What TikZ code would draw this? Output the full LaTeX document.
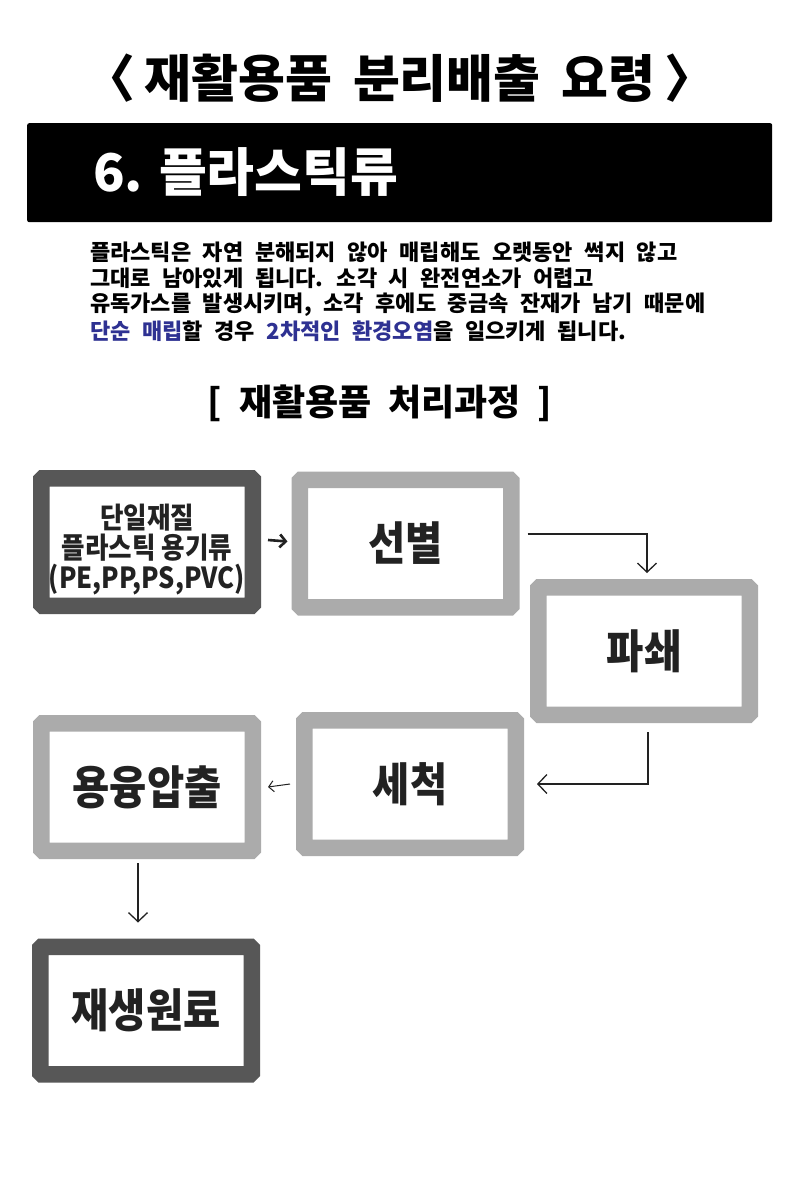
\documentclass[tikz,border=0pt]{standalone}
\usepackage{fontspec}
\setmainfont{Noto Sans CJK KR}
\newfontfamily\narrowfont{Noto Sans CJK KR}[FakeStretch=0.88]
\usetikzlibrary{arrows.meta}
\definecolor{darkframe}{HTML}{575757}
\definecolor{lightframe}{HTML}{ABABAB}
\definecolor{inkblue}{RGB}{46,49,146}
\definecolor{ink}{HTML}{222222}
\newcommand{\gap}[1]{\setlength{\spaceskip}{#1}}
\tikzset{
	stagebox/.style={draw=#1, line width=16.5pt, fill=white, rounded corners=1.5pt, minimum width=211.5pt, minimum height=127.5pt, inner sep=0pt, align=center, text=ink, font=\narrowfont\bfseries\fontsize{46}{50}\selectfont},
	flow/.style={draw=ink, line width=1.3pt, -{Straight Barb[length=9pt,width=19pt]}},
	textline/.style={anchor=west, inner sep=0pt, font=\bfseries\fontsize{22}{26}\selectfont\gap{11.6pt}}
}
\begin{document}
\begin{tikzpicture}[x=1pt, y=-1pt]
		\useasboundingbox[fill=white] (0,0) rectangle (800,1200);
		\node[inner sep=0pt, font=\bfseries\fontsize{51}{54}\selectfont\gap{21pt}] (title) at (400,78) {〈\kern-12pt\relax{} 재활용품 분리배출 요령 \kern-12pt\relax〉};
		\node[fill=black, rounded corners=2pt, minimum width=745pt, minimum height=99pt, anchor=north west] (bar) at (27,123) {};	% Header bar
		\node[anchor=west, inner sep=0pt, text=white, font=\bfseries\fontsize{52}{56}\selectfont\gap{12pt}] (head) at (93,172) {6. 플라스틱류};
		\node[textline] (p1) at (90,252) {플라스틱은 자연 분해되지 않아 매립해도 오랫동안 썩지 않고};
		\node[textline] (p2) at (90,278) {그대로 남아있게 됩니다. 소각 시 완전연소가 어렵고};
		\node[textline] (p3) at (90,305) {유독가스를 발생시키며, 소각 후에도 중금속 잔재가 남기 때문에};
		\node[textline] (p4) at (90,331) {\textcolor{inkblue}{단순 매립}할 경우 \textcolor{inkblue}{2차적인 환경오염}을 일으키게 됩니다.};
		\node[inner sep=0pt, font=\bfseries\fontsize{36}{38}\selectfont\gap{17pt}] (steps) at (380,403) {[ 재활용품 처리과정 ]};
		% Process boxes
		\node[stagebox=darkframe, font=\narrowfont\bfseries\fontsize{29}{32}\selectfont] (src) at (147,542) {\raisebox{-9pt}[\height][\depth]{\begin{tabular}{@{}c@{}}단일재질\\[-4pt]플라스틱 용기류\\[-4pt](PE,PP,PS,PVC)\end{tabular}}};
		\node[stagebox=lightframe] (sort) at (405.5,543.5) {선별};
		\node[stagebox=lightframe] (crush) at (644,651) {파쇄};
		\node[stagebox=lightframe] (wash) at (410,784) {세척};
		\node[stagebox=lightframe] (melt) at (147,787) {용융압출};
		\node[stagebox=darkframe] (raw) at (146,1010.5) {재생원료};
		% Connectors
		\draw[flow, line width=2.6pt, -{Straight Barb[length=6pt,width=13pt]}] ([xshift=7pt,yshift=2pt]src.east) -- ([xshift=-4pt,yshift=2pt]sort.west);
		\draw[flow] ([xshift=8pt,yshift=9.5pt]sort.east) -| ([xshift=3pt,yshift=6pt]crush.north);
		\draw[flow] ([xshift=4pt,yshift=-9pt]crush.south) |- ([xshift=13pt]wash.east);
		\draw[flow, line width=1pt, -{Straight Barb[length=5pt,width=11pt]}] ([xshift=-6pt]wash.west) -- ([xshift=7pt]melt.east);
		\draw[flow] ([xshift=-9pt,yshift=-4pt]melt.south) -- ([xshift=-8pt,yshift=16pt]raw.north);
\end{tikzpicture}
\end{document}
